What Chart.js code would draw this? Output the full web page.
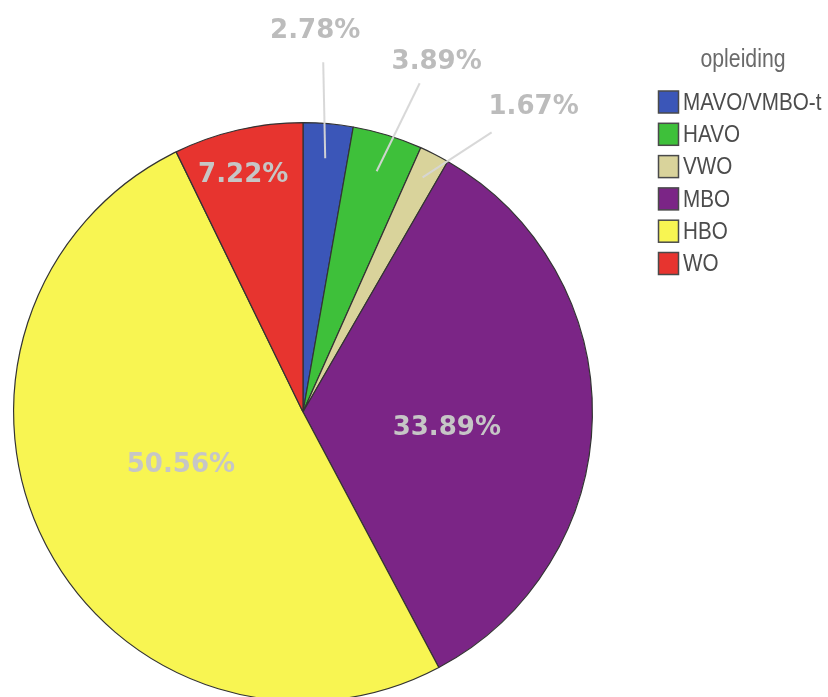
<!DOCTYPE html>
<html>
<head>
<meta charset="utf-8">
<title>opleiding</title>
<script src="https://cdn.jsdelivr.net/npm/chart.js@4.4.1/dist/chart.umd.min.js"></script>
<style>
    html, body {
        margin: 0;
        padding: 0;
        background: #ffffff;
        overflow: hidden;
    }
    #pie-chart {
        display: block;
    }
</style>
</head>
<body>
<canvas id="pie-chart" width="828" height="720"></canvas>
<script>
const legendTitle = 'opleiding';
const categories = ['MAVO/VMBO-t', 'HAVO', 'VWO', 'MBO', 'HBO', 'WO'];
const percentages = [2.78, 3.89, 1.67, 33.89, 50.56, 7.22];
const sliceColors = ['#3b56b8', '#3ec03a', '#d9d39b', '#7b2586', '#f8f552', '#e7342f'];

// where each percentage goes: inside the slice, or outside with a leader line
const labelPlacement = [
    { inside: false, r: 0.88, line: [-2, -96], text: [-8, -31] },
    { inside: false, r: 0.87, line: [43, -88], text: [17, -21] },
    { inside: false, r: 0.91, line: [69, -45], text: [42, -25] },
    { inside: true, r: 0.50, shift: 5.3 },
    { inside: true, r: 0.46, shift: 3.5 },
    { inside: true, r: 0.843, shift: -1.2 }
];

const pctLabels = {
    id: 'pctLabels',
    afterDatasetsDraw(chart) {
        const ctx = chart.ctx;
        const arcs = chart.getDatasetMeta(0).data;
        ctx.save();
        ctx.font = 'bold 26px "DejaVu Sans"';
        ctx.textAlign = 'center';
        ctx.textBaseline = 'middle';
        arcs.forEach((arc, i) => {
            const p = arc.getProps(['x', 'y', 'startAngle', 'endAngle', 'outerRadius'], true);
            const place = labelPlacement[i];
            const text = percentages[i].toFixed(2) + '%';
            let mid = (p.startAngle + p.endAngle) / 2;
            if (place.inside) {
                mid += place.shift * Math.PI / 180;
                const tx = p.x + Math.cos(mid) * p.outerRadius * place.r;
                const ty = p.y + Math.sin(mid) * p.outerRadius * place.r;
                ctx.fillStyle = '#c6c6c6';
                ctx.fillText(text, tx, ty);
            } else {
                const sx = p.x + Math.cos(mid) * p.outerRadius * place.r;
                const sy = p.y + Math.sin(mid) * p.outerRadius * place.r;
                const ex = sx + place.line[0];
                const ey = sy + place.line[1];
                ctx.strokeStyle = 'rgba(214, 214, 214, 0.95)';
                ctx.lineWidth = 2;
                ctx.beginPath();
                ctx.moveTo(sx, sy);
                ctx.lineTo(ex, ey);
                ctx.stroke();
                ctx.fillStyle = '#bcbcbc';
                ctx.fillText(text, ex + place.text[0], ey + place.text[1]);
            }
        });
        ctx.restore();
    }
};

// narrow text: squeeze horizontally around x
function narrowText(ctx, text, x, y, squeeze) {
    ctx.save();
    ctx.translate(x, y);
    ctx.scale(squeeze, 1);
    ctx.fillText(text, 0, 0);
    ctx.restore();
}

const sideLegend = {
    id: 'sideLegend',
    afterDraw(chart) {
        const ctx = chart.ctx;
        ctx.save();
        ctx.textBaseline = 'middle';
        ctx.textAlign = 'center';
        ctx.fillStyle = '#6a6a6a';
        ctx.font = '25px "Liberation Sans"';
        narrowText(ctx, legendTitle, 743, 60, 0.85);

        ctx.textAlign = 'left';
        ctx.font = '24px "Liberation Sans"';
        for (let i = 0; i < categories.length; i++) {
            const y = 102 + i * 32.3;
            ctx.fillStyle = sliceColors[i];
            ctx.fillRect(658.5, y - 11, 20, 22);
            ctx.strokeStyle = '#4a4a4a';
            ctx.lineWidth = 1.5;
            ctx.strokeRect(658.5, y - 11, 20, 22);
            ctx.fillStyle = '#4c4c4c';
            narrowText(ctx, categories[i], 683, y + 1, 0.86);
        }
        ctx.restore();
    }
};

const pieCtx = document.getElementById('pie-chart').getContext('2d');

new Chart(pieCtx, {
    type: 'pie',
    data: {
        labels: categories,
        datasets: [{
            data: percentages,
            backgroundColor: sliceColors,
            borderColor: '#333333',
            borderWidth: 1.2
        }]
    },
    options: {
        responsive: false,
        animation: false,
        layout: {
            padding: { left: 13, right: 235, top: 122, bottom: 18 }
        },
        plugins: {
            legend: { display: false },
            tooltip: { enabled: false }
        }
    },
    plugins: [pctLabels, sideLegend]
});
</script>
</body>
</html>
